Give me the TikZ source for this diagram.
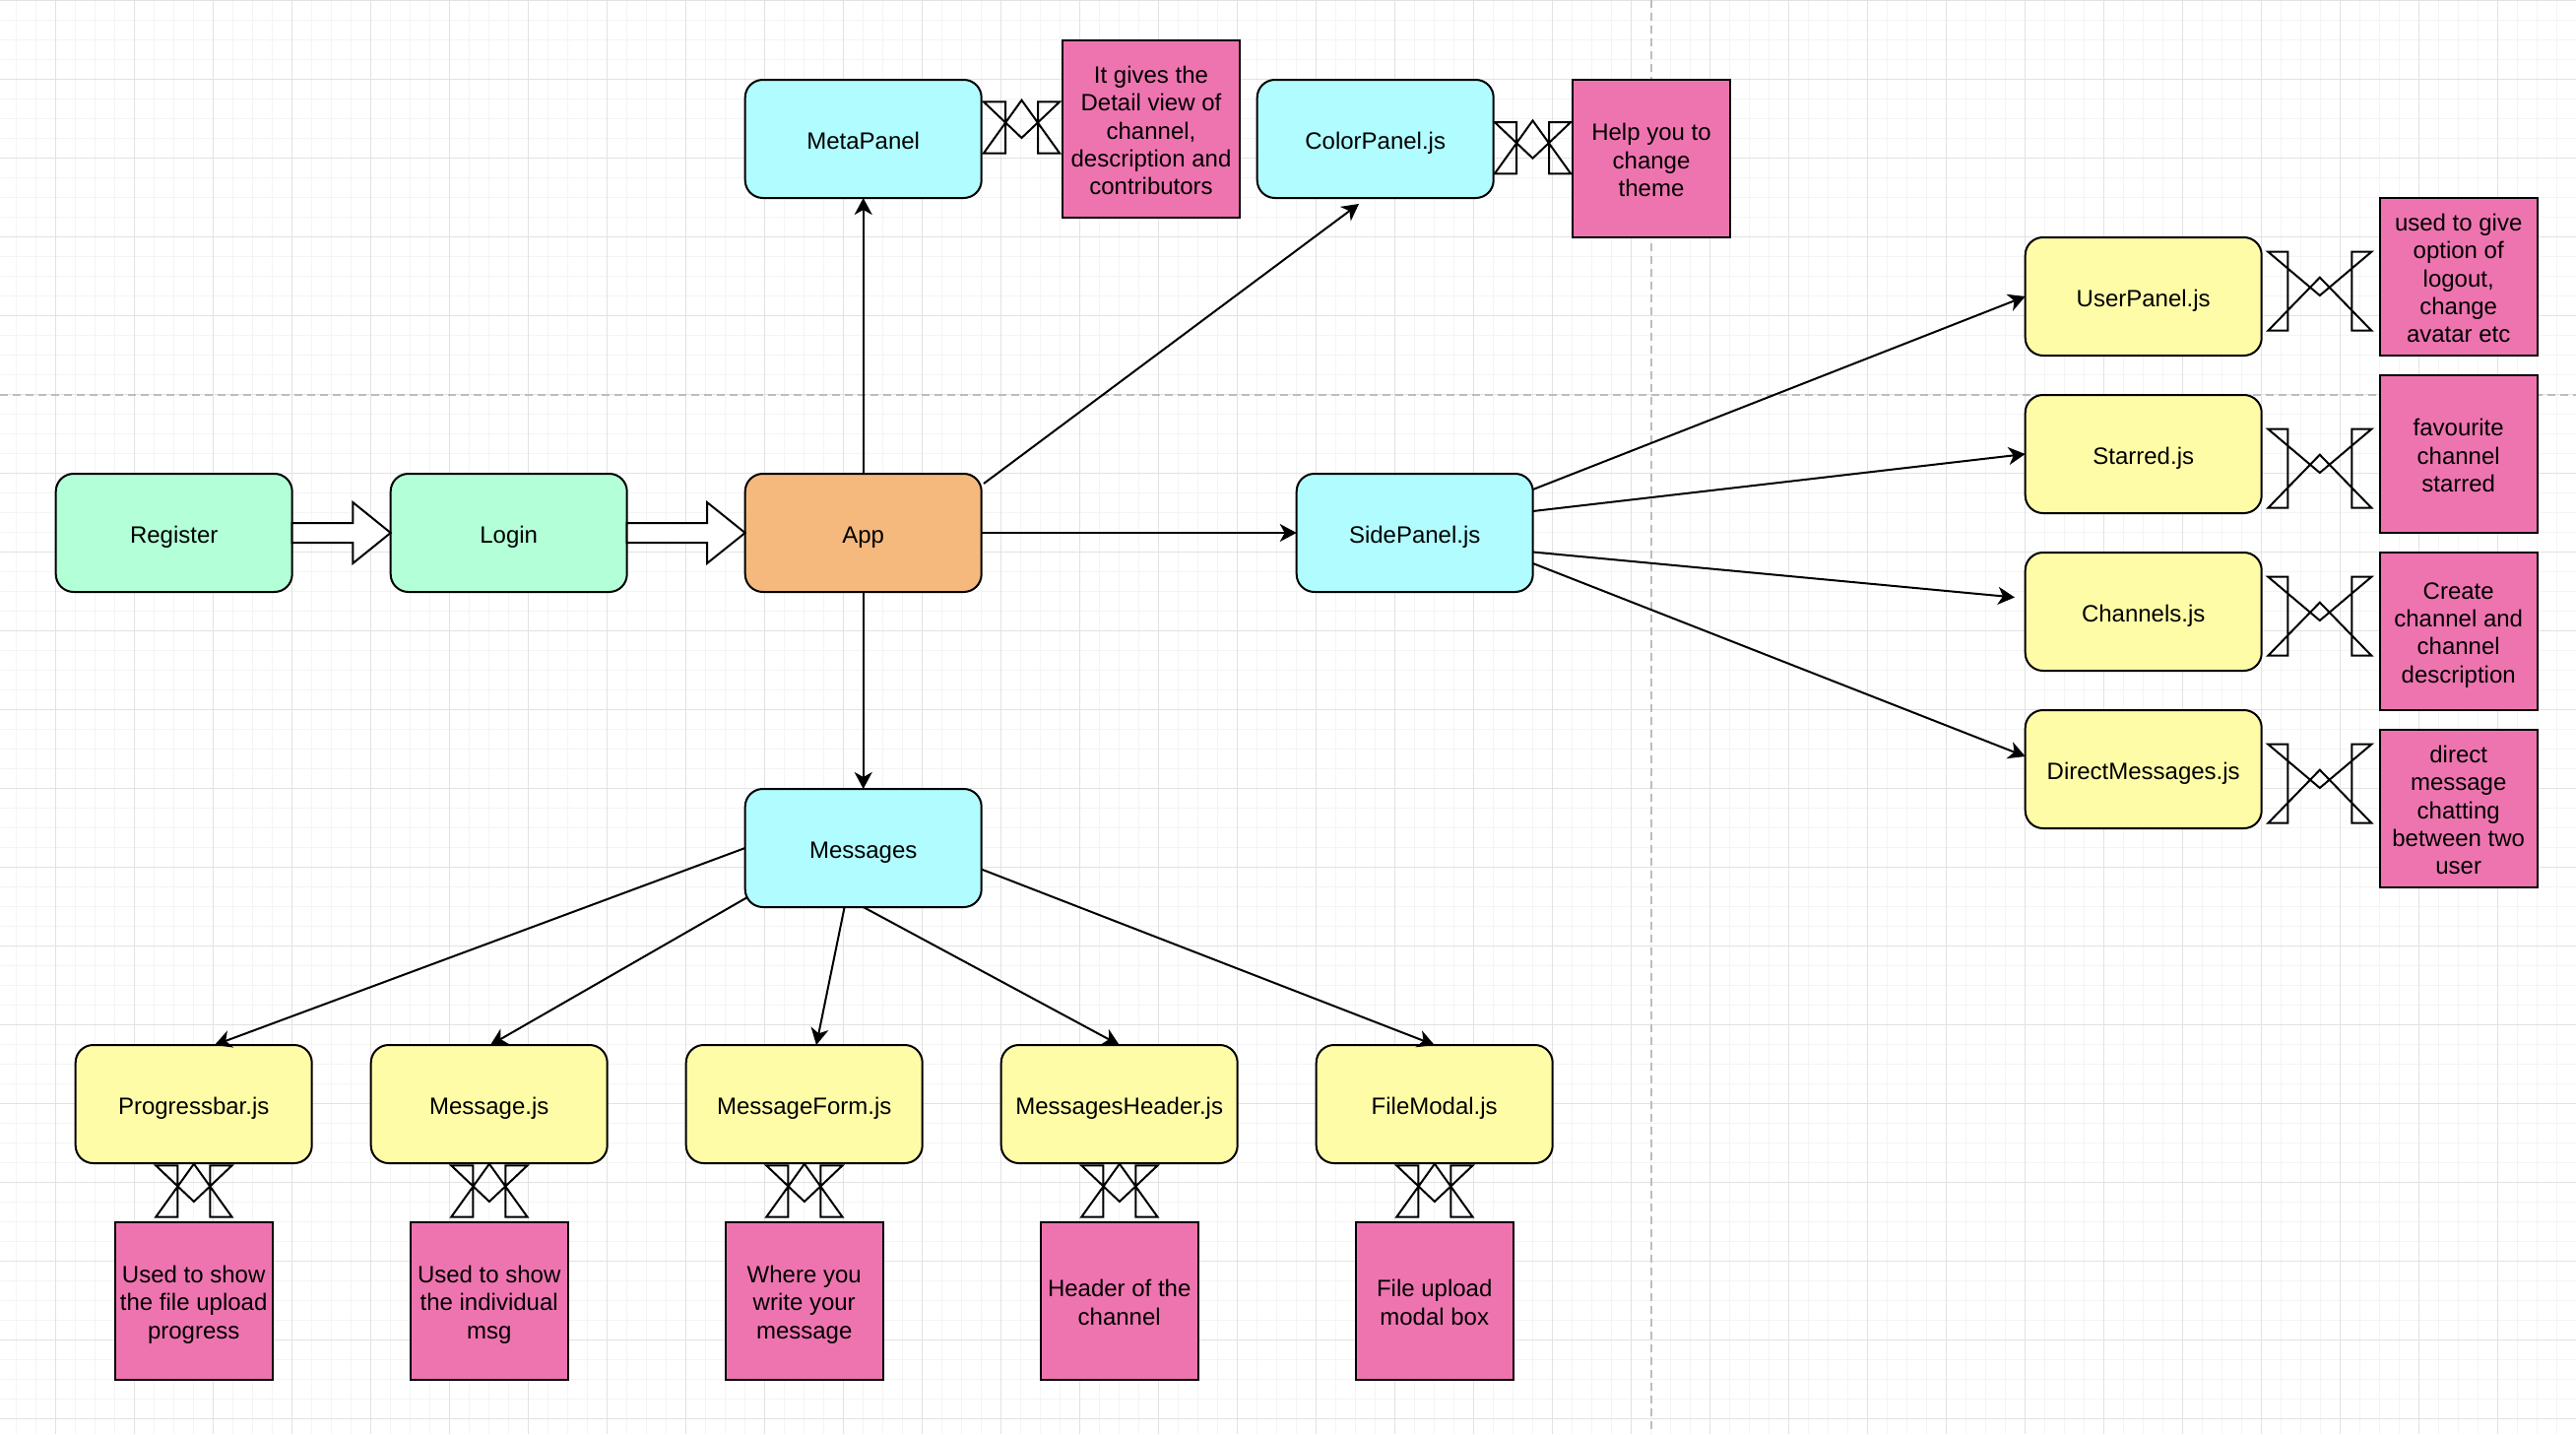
\documentclass[tikz,border=0pt]{standalone}
\usepackage{fontspec}
\setmainfont{Liberation Sans}
\usetikzlibrary{arrows.meta,calc}
\definecolor{cgreen}{HTML}{B3FFD7}
\definecolor{ccyan}{HTML}{B0FCFF}
\definecolor{corange}{HTML}{F5B97E}
\definecolor{cyellow}{HTML}{FFFCA8}
\definecolor{cpink}{HTML}{EE74B0}
\definecolor{gridmajor}{HTML}{E2E2E2}
\definecolor{gridminor}{HTML}{F4F4F4}
\definecolor{pagebreak}{HTML}{BDBDBD}
\newcommand{\ft}{\rule{0pt}{12.1pt}}
\newcommand{\lt}{\rule[-2.1pt]{0pt}{2.1pt}}
\tikzset{
  txt/.style={font=\fontsize{12pt}{14.2pt}\selectfont},
  box/.style={txt,rectangle,rounded corners=9pt,draw=black,line width=1pt,minimum width=120pt,minimum height=60pt,inner sep=0pt,outer sep=0pt,align=center,text height=12.24pt,text depth=2.16pt},
  greenbox/.style={box,fill=cgreen},
  cyanbox/.style={box,fill=ccyan},
  orangebox/.style={box,fill=corange},
  yellowbox/.style={box,fill=cyellow},
  note/.style={txt,rectangle,draw=black,line width=1pt,fill=cpink,minimum width=80pt,minimum height=80pt,inner sep=0pt,outer sep=0pt,align=center},
  bignote/.style={note,minimum width=90pt,minimum height=90pt},
  arr/.style={line width=1pt,-{Stealth[length=8.5pt,width=9pt,inset=2.5pt]}},
  fat/.style={draw=black,line width=1pt,fill=white},
  bow/.style={draw=black,line width=1pt},
  gminor/.style={draw=gridminor,line width=0.5pt},
  gmajor/.style={draw=gridmajor,line width=0.6pt},
  pagebrk/.style={draw=pagebreak,line width=0.9pt,dash pattern=on 4pt off 2.5pt},
  bows/.pic={\draw[bow] (-38.7,0) -- (-16.5,0) -- (-16.5,52.4) -- (-38.7,52.4) -- (0,-1.6) -- (38.7,52.4) -- (16.5,52.4) -- (16.5,0) -- (38.7,0) -- (0,36.7) -- cycle;},
  bowl/.pic={\draw[bow] (-52.5,0) -- (-32.5,0) -- (-32.5,80) -- (-52.5,80) -- (0,26) -- (52.5,80) -- (32.5,80) -- (32.5,0) -- (52.5,0) -- (0,44.3) -- cycle;}
}
\begin{document}
\begin{tikzpicture}[x=0.5pt,y=-0.5pt]
\useasboundingbox (0,0) rectangle (2616,1456);
\fill[white] (0,0) rectangle (2616,1456);
% grid
\foreach \i in {0,...,130} \draw[gminor] ({16.7+20*\i},0) -- ({16.7+20*\i},1456);
\foreach \j in {0,...,72} \draw[gminor] (0,{0.7+20*\j}) -- (2616,{0.7+20*\j});
\foreach \i in {0,...,31} \draw[gmajor] ({56.7+80*\i},0) -- ({56.7+80*\i},1456);
\foreach \j in {0,...,18} \draw[gmajor] (0,{0.7+80*\j}) -- (2616,{0.7+80*\j});
\draw[pagebrk] (0,400.7) -- (2616,400.7);
\draw[pagebrk] (1676.7,0) -- (1676.7,1456);

% main row
\node[greenbox] (reg) at (176.7,541) {Register};
\node[greenbox] (login) at (516.7,541) {Login};
\node[orangebox] (app) at (876.7,541) {App};
\node[cyanbox] (side) at (1436.7,541) {SidePanel.js};

% top
\node[cyanbox] (meta) at (876.7,141) {MetaPanel};
\node[bignote] (metanote) at (1169,131) {\ft It gives the\\Detail view of\\channel,\\description and\\contributors\lt};
\node[cyanbox] (color) at (1396.7,141) {ColorPanel.js};
\node[note] (colornote) at (1677,161) {\ft Help you to\\change\\theme\lt};

% right column
\node[yellowbox] (user) at (2176.7,301) {UserPanel.js};
\node[note] (usernote) at (2496.7,281) {\ft used to give\\option of\\logout,\\change\\avatar etc\lt};
\node[yellowbox] (star) at (2176.7,461) {Starred.js};
\node[note] (starnote) at (2496.7,461) {\ft favourite\\channel\\starred\lt};
\node[yellowbox] (chan) at (2176.7,621) {Channels.js};
\node[note] (channote) at (2496.7,641) {\ft Create\\channel and\\channel\\description\lt};
\node[yellowbox] (dm) at (2176.7,781) {DirectMessages.js};
\node[note] (dmnote) at (2496.7,821) {\ft direct\\message\\chatting\\between two\\user\lt};

% messages
\node[cyanbox] (msgs) at (876.7,861) {Messages};
\node[yellowbox] (prog) at (196.7,1121) {Progressbar.js};
\node[yellowbox] (msg) at (496.7,1121) {Message.js};
\node[yellowbox] (form) at (816.7,1121) {MessageForm.js};
\node[yellowbox] (head) at (1136.7,1121) {MessagesHeader.js};
\node[yellowbox] (filem) at (1456.7,1121) {FileModal.js};
\node[note] (prognote) at (196.7,1321) {\ft Used to show\\the file upload\\progress\lt};
\node[note] (msgnote) at (496.7,1321) {\ft Used to show\\the individual\\msg\lt};
\node[note] (formnote) at (816.7,1321) {\ft Where you\\write your\\message\lt};
\node[note] (headnote) at (1136.7,1321) {\ft Header of the\\channel\lt};
\node[note] (filenote) at (1456.7,1321) {\ft File upload\\modal box\lt};

% fat arrows
\draw[fat] ($(reg.east)+(0,-10)$) -- ($(reg.east)+(61.6,-10)$) -- ($(reg.east)+(61.6,-31)$) -- (login.west) -- ($(reg.east)+(61.6,31)$) -- ($(reg.east)+(61.6,10)$) -- ($(reg.east)+(0,10)$) -- cycle;
\draw[fat] ($(login.east)+(0,-10)$) -- ($(login.east)+(81.3,-10)$) -- ($(login.east)+(81.3,-31)$) -- (app.west) -- ($(login.east)+(81.3,31)$) -- ($(login.east)+(81.3,10)$) -- ($(login.east)+(0,10)$) -- cycle;

% free ends
\coordinate (appc) at (999,491);
\coordinate (colorin) at (1380,207);
\coordinate (s1) at (1556.7,497);
\coordinate (s2) at (1556.7,519);
\coordinate (s3) at (1556.7,560.5);
\coordinate (s4) at (1556.7,572);
\coordinate (chanin) at (2046,606.5);
\coordinate (dmin) at (2056.7,768);
\coordinate (progin) at (218,1061);
\coordinate (m2) at (759,911);
\coordinate (msgin) at (498,1061);
\coordinate (m3) at (857.6,921);
\coordinate (formin) at (829,1061);
\coordinate (m5) at (996.7,882.6);

% thin arrows
\draw[arr] (app.north) -- (meta.south);
\draw[arr] (appc) -- (colorin);
\draw[arr] (app.east) -- (side.west);
\draw[arr] (app.south) -- (msgs.north);
\draw[arr] (s1) -- (user.west);
\draw[arr] (s2) -- (star.west);
\draw[arr] (s3) -- (chanin);
\draw[arr] (s4) -- (dmin);
\draw[arr] (msgs.west) -- (progin);
\draw[arr] (m2) -- (msgin);
\draw[arr] (m3) -- (formin);
\draw[arr] (msgs.south) -- (head.north);
\draw[arr] (m5) -- (filem.north);

% bowtie links
\pic at (1037.5,103.3) {bows};
\pic at (1556.5,124) {bows};
\pic at (2355.8,255.7) {bowl};
\pic at (2355.8,435.7) {bowl};
\pic at (2355.8,585.7) {bowl};
\pic at (2355.8,755.7) {bowl};
\pic at (196.9,1183.3) {bows};
\pic at (496.9,1183.3) {bows};
\pic at (816.9,1183.3) {bows};
\pic at (1136.9,1183.3) {bows};
\pic at (1456.9,1183.3) {bows};
\end{tikzpicture}
\end{document}
